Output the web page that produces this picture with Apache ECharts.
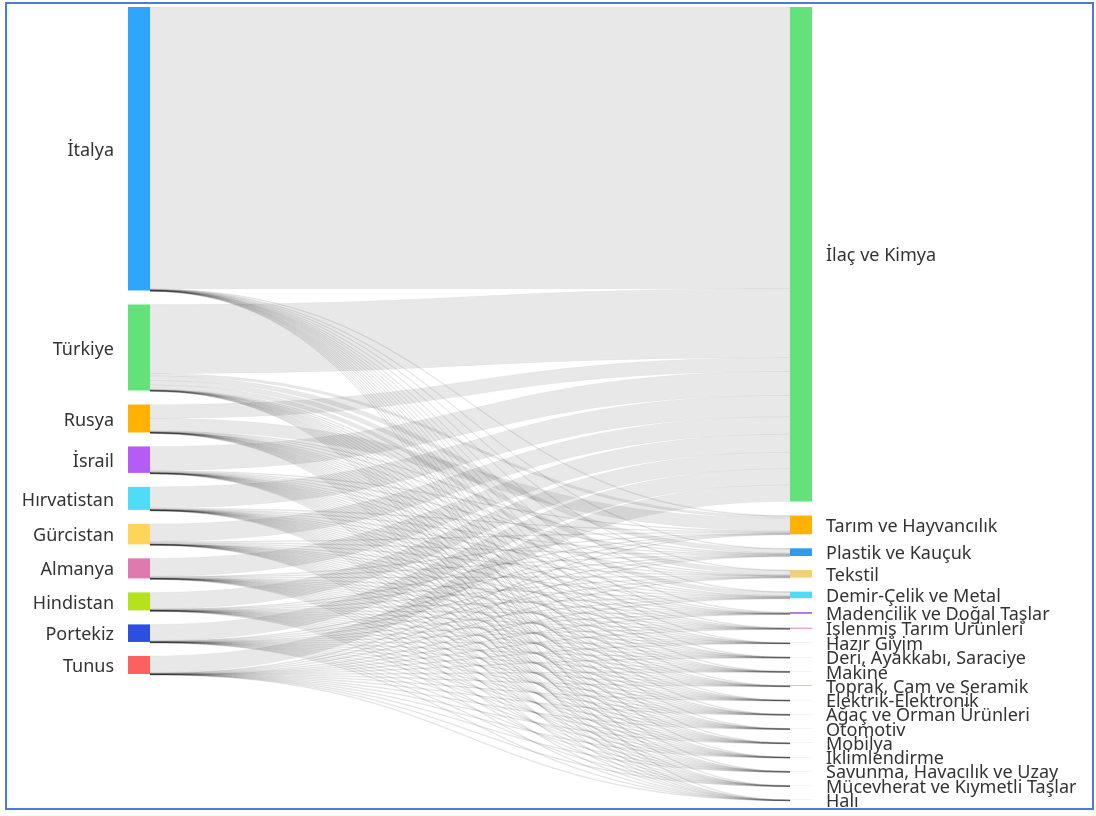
<!DOCTYPE html>
<html>
<head>
<meta charset="utf-8">
<title>Sankey</title>
<script src="https://cdn.jsdelivr.net/npm/echarts@6/dist/echarts.min.js"></script>
<style>
  html, body { margin: 0; padding: 0; background: #fff; }
  #chart { width: 1096px; height: 816px; }
</style>
</head>
<body>
<div id="chart"></div>
<script>
// kaynak ulkeler (sol sutun)
const countries = ['İtalya', 'Türkiye', 'Rusya', 'İsrail', 'Hırvatistan', 'Gürcistan', 'Almanya', 'Hindistan', 'Portekiz', 'Tunus']
const countryColors = ['#2ea6fb', '#63e27a', '#ffb300', '#b65bf5', '#4fdcf7', '#fdd55a', '#e07aae', '#b5e21c', '#2d4fe0', '#fc6160']

// sektorler (sag sutun)
const sectors = [
  'İlaç ve Kimya', 'Tarım ve Hayvancılık', 'Plastik ve Kauçuk', 'Tekstil',
  'Demir-Çelik ve Metal', 'Madencilik ve Doğal Taşlar', 'İşlenmiş Tarım Ürünleri',
  'Hazır Giyim', 'Deri, Ayakkabı, Saraciye', 'Makine', 'Toprak, Cam ve Seramik',
  'Elektrik-Elektronik', 'Ağaç ve Orman Ürünleri', 'Otomotiv', 'Mobilya',
  'İklimlendirme', 'Savunma, Havacılık ve Uzay', 'Mücevherat ve Kıymetli Taşlar', 'Halı'
]
const sectorColors = ['#63e27a', '#ffb300', '#2d9cf0', '#f2d078', '#4fdcf7', '#9b4fd0', '#e080a8',
  '#cccccc', '#cccccc', '#cccccc', '#7070e0', '#cccccc', '#cccccc', '#cccccc', '#cccccc',
  '#cccccc', '#cccccc', '#cccccc', '#cccccc']

// ulke -> sektor degerleri (sektor sirasina gore)
const italya      = [281.7, 0.2, 0.3, 0.2, 0.2, 0.2, 0.1, 0.06, 0.05, 0.05, 0.07, 0.05, 0.04, 0.05, 0.04, 0.04, 0.03, 0.04, 0.04]
const turkiye     = [69, 2.5, 4.5, 4.5, 4, 0.6, 0.3, 0.05, 0.06, 0.05, 0.08, 0.05, 0.05, 0.04, 0.05, 0.04, 0.05, 0.04, 0.05]
const rusya       = [13.8, 12.5, 0.3, 0.5, 0.3, 0.1, 0.1, 0.03, 0.03, 0.03, 0.04, 0.03, 0.03, 0.03, 0.03, 0.03, 0.03, 0.03, 0.03]
const israil      = [24, 0.8, 0.5, 0.3, 0.4, 0.1, 0.1, 0.02, 0.02, 0.02, 0.03, 0.02, 0.02, 0.02, 0.02, 0.02, 0.02, 0.02, 0.02]
const hirvatistan = [21.2, 0.6, 0.3, 0.2, 0.3, 0.1, 0.05, 0.02, 0.02, 0.02, 0.03, 0.02, 0.02, 0.02, 0.02, 0.02, 0.02, 0.02, 0.02]
const gurcistan   = [17.5, 0.8, 0.6, 0.6, 0.5, 0.1, 0.1, 0.02, 0.02, 0.02, 0.03, 0.02, 0.02, 0.02, 0.02, 0.02, 0.02, 0.02, 0.02]
const almanya     = [18, 0.4, 0.5, 0.4, 0.3, 0.1, 0.1, 0.02, 0.02, 0.02, 0.03, 0.02, 0.02, 0.02, 0.02, 0.02, 0.02, 0.02, 0.02]
const hindistan   = [16.5, 0.3, 0.3, 0.3, 0.2, 0.1, 0.05, 0.02, 0.02, 0.02, 0.03, 0.02, 0.02, 0.02, 0.02, 0.02, 0.02, 0.02, 0.02]
const portekiz    = [16.2, 0.3, 0.2, 0.3, 0.2, 0.05, 0.05, 0.02, 0.02, 0.02, 0.03, 0.02, 0.02, 0.02, 0.02, 0.02, 0.02, 0.02, 0.02]
const tunus       = [16.6, 0.4, 0.2, 0.3, 0.2, 0.05, 0.05, 0.02, 0.02, 0.02, 0.03, 0.02, 0.02, 0.02, 0.02, 0.02, 0.02, 0.02, 0.02]

const flows = [italya, turkiye, rusya, israil, hirvatistan, gurcistan, almanya, hindistan, portekiz, tunus]

const nodes = []
countries.forEach((name, i) => {
  nodes.push({ name: name, itemStyle: { color: countryColors[i] }, label: { position: 'left' } })
})
sectors.forEach((name, i) => {
  nodes.push({ name: name, itemStyle: { color: sectorColors[i] }, label: { position: 'right' } })
})

const links = []
flows.forEach((row, i) => {
  row.forEach((v, j) => {
    links.push({ source: countries[i], target: sectors[j], value: v })
  })
})

const chart = echarts.init(document.getElementById('chart'))
chart.setOption({
  animation: false,
  graphic: [{
    type: 'rect',
    shape: { x: 6, y: 3, width: 1087, height: 806 },
    style: { fill: 'none', stroke: '#4b7bd4', lineWidth: 2 },
    silent: true
  }],
  series: [{
    type: 'sankey',
    left: 128,
    right: 284,
    top: 7,
    bottom: 16,
    nodeWidth: 22,
    nodeGap: 14,
    layoutIterations: 0,
    draggable: false,
    emphasis: { disabled: true },
    data: nodes,
    links: links,
    itemStyle: {
      borderWidth: 0
    },
    label: {
      fontFamily: 'Noto Sans',
      fontSize: 18,
      color: '#333',
      distance: 14,
      offset: [0, 2]
    },
    lineStyle: {
      color: 'rgba(0,0,0,0.09)',
      opacity: 1,
      curveness: 0.5,
      borderColor: 'rgba(0,0,0,0.09)',
      borderWidth: 0.4
    }
  }]
})
</script>
</body>
</html>
